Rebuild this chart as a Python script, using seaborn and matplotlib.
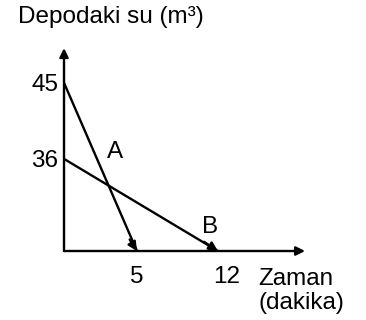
import numpy as np
import pandas as pd
import seaborn as sns
import matplotlib.pyplot as plt
import matplotlib.transforms as mtransforms

# tanks: start volume (m3) and time to empty (min)
tanks = ["A", "B"]
start_volume = [45, 36]
empty_time = [5, 12]

x_ticks = [5, 12]
y_ticks = [36, 45]

sns.set_theme(style="white")
plt.rcParams["font.family"] = ["Liberation Sans", "DejaVu Sans"]
plt.rcParams["text.color"] = "black"

rows = []
for name, v0, t in zip(tanks, start_volume, empty_time):
    rows.append({"tank": name, "time": 0, "volume": v0})
    rows.append({"tank": name, "time": t, "volume": 0})
df = pd.DataFrame(rows)

fig = plt.figure(figsize=(3.66, 3.2), dpi=100)
ax = fig.add_axes([0.1749, 0.2156, 0.6585, 0.634])

# schematic (not to scale) axes as in the drawing
yd, yp = [0, 36, 45, 100], [0, 92, 168, 168 + 55 * 76 / 9]
xd, xp = [0, 5, 12, 60], [0, 73, 154, 154 + 48 * 12.83]
ax.set_yscale("function", functions=(lambda y: np.interp(y, yd, yp),
                                     lambda p: np.interp(p, yp, yd)))
ax.set_xscale("function", functions=(lambda x: np.interp(x, xd, xp),
                                     lambda p: np.interp(p, xp, xd)))

sns.lineplot(data=df, x="time", y="volume", units="tank", estimator=None,
             color="black", lw=1.7, ax=ax, legend=False)
for v0, t in zip(start_volume, empty_time):
    ax.annotate("", xy=(t, 0), xytext=(t * 0.9, v0 * 0.1),
                arrowprops=dict(arrowstyle="-|>", color="black", lw=1.7,
                                mutation_scale=13, shrinkA=0, shrinkB=0))

ax.set_xlim(0, 18.8)
ax.set_ylim(0, 49.1)
for s in ax.spines.values():
    s.set_visible(False)

arrow = dict(arrowstyle="-|>", color="black", lw=1.7, mutation_scale=13,
             shrinkA=0, shrinkB=0)
ax.annotate("", xy=(1, 0), xytext=(0, 0), xycoords="axes fraction", arrowprops=arrow)
ax.annotate("", xy=(0, 1), xytext=(0, 0), xycoords="axes fraction", arrowprops=arrow)

fs = 17.5
ax.set_xticks(x_ticks)
ax.set_xticklabels([str(v) for v in x_ticks])
ax.set_yticks(y_ticks)
ax.set_yticklabels([str(v) for v in y_ticks])
ax.tick_params(axis="both", length=0, labelsize=fs, colors="black")
ax.tick_params(axis="x", pad=11)
ax.tick_params(axis="y", pad=4)
ax.set_xlabel("")
ax.set_ylabel("")

# the "12" sits a little right of its mark in the drawing
lbl = ax.get_xticklabels()[1]
lbl.set_transform(lbl.get_transform() + mtransforms.ScaledTranslation(0.09, 0, fig.dpi_scale_trans))

ax.text(0.805, -0.085, "Zaman\n(dakika)", transform=ax.transAxes,
        ha="left", va="top", fontsize=fs, linespacing=1.1)
ax.text(0.212, 0.488, "A", transform=ax.transAxes, ha="center", va="center", fontsize=fs)
ax.text(0.606, 0.118, "B", transform=ax.transAxes, ha="center", va="center", fontsize=fs)
fig.text(0.049, 0.947, "Depodaki su (m³)", ha="left", va="center", fontsize=fs)

fig.savefig("out.png", dpi=100)
